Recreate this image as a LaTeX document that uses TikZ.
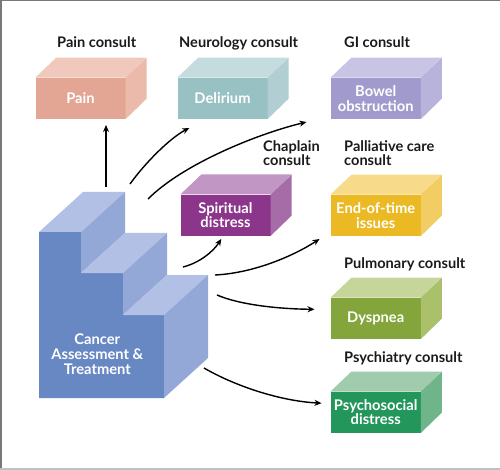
\documentclass[tikz,border=0pt]{standalone}
\usepackage{fontspec}
\setmainfont{Lato}
\usepackage{tikz}
\usetikzlibrary{arrows.meta,calc}

\begin{document}
\begin{tikzpicture}[x=1pt,y=1pt,yscale=-1,xscale=1,
  consult/.style={inner sep=0pt, align=left, text={rgb, 255:red, 26; green, 26; blue, 26 }, font=\fontsize{14.6}{14.7}\selectfont\bfseries},
  front/.style={inner sep=0pt, minimum width=90pt, minimum height=41pt, align=center, text=white, font=\fontsize{14.7}{14.7}\selectfont\bfseries},
  link/.style={line width=1.4pt, -{Stealth[length=7pt,width=6pt]}}]
\useasboundingbox (0,0) rectangle (500,470);

%Frame
\draw [color={rgb, 255:red, 120; green, 120; blue, 120 }][line width=1.5pt] (0.75,470) -- (0.75,0.75) -- (500,0.75) ;
\draw [color={rgb, 255:red, 192; green, 192; blue, 192 }][line width=2pt] (0,469) -- (500,469) ;

%Shape: Stairs [Cancer Assessment & Treatment]
\path [fill={rgb, 255:red, 104; green, 136; blue, 196 }] (39,398) -- (39,232) -- (81,232) -- (81,273) -- (123,273) -- (123,315) -- (164,315) -- (164,398) -- cycle ;
\path [fill={rgb, 255:red, 178; green, 192; blue, 229 }] (39,232) -- (81,232) -- (125,192) -- (83,192) -- cycle ;
\path [fill={rgb, 255:red, 148; green, 168; blue, 216 }] (81,232) -- (125,192) -- (125,233) -- (81,273) -- cycle ;
\path [fill={rgb, 255:red, 178; green, 192; blue, 229 }] (81,273) -- (123,273) -- (167,233) -- (125,233) -- cycle ;
\path [fill={rgb, 255:red, 148; green, 168; blue, 216 }] (123,273) -- (167,233) -- (167,275) -- (123,315) -- cycle ;
\path [fill={rgb, 255:red, 178; green, 192; blue, 229 }] (123,315) -- (164,315) -- (208,275) -- (167,275) -- cycle ;
\path [fill={rgb, 255:red, 148; green, 168; blue, 216 }] (164,315) -- (208,275) -- (208,358) -- (164,398) -- cycle ;
% Text Node
\node [front, minimum width=0pt, minimum height=0pt] (cat) at (97.3,354) {Cancer\\Assessment \&\\Treatment};

%Shape: Cube [Pain]
\node [front, fill={rgb, 255:red, 228; green, 166; blue, 148 }] (pain) at (80.5,98.3) {Pain};
\path [fill={rgb, 255:red, 240; green, 201; blue, 188 }] (pain.north west) -- ++(21,-20) -- ++(90,0) -- (pain.north east) -- cycle ;
\path [fill={rgb, 255:red, 235; green, 186; blue, 170 }] (pain.north east) -- ++(21,-20) -- ++(0,41) -- (pain.south east) -- cycle ;
%Shape: Cube [Delirium]
\node [front, fill={rgb, 255:red, 152; green, 193; blue, 196 }] (delirium) at (222.5,98.3) {Delirium};
\path [fill={rgb, 255:red, 196; green, 220; blue, 222 }] (delirium.north west) -- ++(21,-20) -- ++(90,0) -- (delirium.north east) -- cycle ;
\path [fill={rgb, 255:red, 177; green, 207; blue, 210 }] (delirium.north east) -- ++(21,-20) -- ++(0,41) -- (delirium.south east) -- cycle ;
%Shape: Cube [Bowel obstruction]
\node [front, fill={rgb, 255:red, 161; green, 155; blue, 205 }] (bowel) at (375.7,98.3) {Bowel\\obstruction};
\path [fill={rgb, 255:red, 200; green, 197; blue, 228 }] (bowel.north west) -- ++(21,-20) -- ++(90,0) -- (bowel.north east) -- cycle ;
\path [fill={rgb, 255:red, 183; green, 179; blue, 219 }] (bowel.north east) -- ++(21,-20) -- ++(0,41) -- (bowel.south east) -- cycle ;
%Shape: Cube [Spiritual distress]
\node [front, fill={rgb, 255:red, 139; green, 53; blue, 139 }] (spiritual) at (225.5,215.2) {Spiritual\\distress};
\path [fill={rgb, 255:red, 194; green, 150; blue, 196 }] (spiritual.north west) -- ++(21,-20) -- ++(90,0) -- (spiritual.north east) -- cycle ;
\path [fill={rgb, 255:red, 166; green, 108; blue, 168 }] (spiritual.north east) -- ++(21,-20) -- ++(0,41) -- (spiritual.south east) -- cycle ;
%Shape: Cube [End-of-time issues]
\node [front, fill={rgb, 255:red, 234; green, 185; blue, 35 }] (endtime) at (375.7,215.3) {End-of-time\\issues};
\path [fill={rgb, 255:red, 247; green, 218; blue, 138 }] (endtime.north west) -- ++(21,-20) -- ++(90,0) -- (endtime.north east) -- cycle ;
\path [fill={rgb, 255:red, 242; green, 205; blue, 100 }] (endtime.north east) -- ++(21,-20) -- ++(0,41) -- (endtime.south east) -- cycle ;
%Shape: Cube [Dyspnea]
\node [front, fill={rgb, 255:red, 132; green, 164; blue, 60 }] (dyspnea) at (375.7,318.3) {Dyspnea};
\path [fill={rgb, 255:red, 198; green, 214; blue, 155 }] (dyspnea.north west) -- ++(21,-20) -- ++(90,0) -- (dyspnea.north east) -- cycle ;
\path [fill={rgb, 255:red, 170; green, 192; blue, 106 }] (dyspnea.north east) -- ++(21,-20) -- ++(0,41) -- (dyspnea.south east) -- cycle ;
%Shape: Cube [Psychosocial distress]
\node [front, fill={rgb, 255:red, 35; green, 150; blue, 92 }] (psycho) at (375.7,412.2) {Psychosocial\\distress};
\path [fill={rgb, 255:red, 160; green, 204; blue, 173 }] (psycho.north west) -- ++(21,-20) -- ++(90,0) -- (psycho.north east) -- cycle ;
\path [fill={rgb, 255:red, 111; green, 181; blue, 137 }] (psycho.north east) -- ++(21,-20) -- ++(0,41) -- (psycho.south east) -- cycle ;

% Text Node
\node [consult, anchor=base west] (painLbl) at (57,47.9) {Pain consult};
% Text Node
\node [consult, anchor=base west] (neuroLbl) at (179,47.9) {Neurology consult};
% Text Node
\node [consult, anchor=base west] (giLbl) at (344,47.9) {GI consult};
% Text Node
\node [consult, anchor=west] (chaplainLbl) at (263,153) {Chaplain\\consult};
% Text Node
\node [consult, anchor=west] (palliativeLbl) at (344,153) {Palliative care\\consult};
% Text Node
\node [consult, anchor=base west] (pulmonaryLbl) at (344,268.5) {Pulmonary consult};
% Text Node
\node [consult, anchor=base west] (psychiatryLbl) at (344,362.5) {Psychiatry consult};

%Curve Lines
\coordinate (catPain) at (106,187);
\coordinate (catDelirium) at (130,184);
\coordinate (catBowel) at (148,199);
\coordinate (catSpiritual) at (183,267);
\coordinate (catEndtime) at (215,275);
\coordinate (catDyspnea) at (217,295);
\coordinate (catPsycho) at (204,368);
\draw [link, shorten >=6pt] (catPain) -- (catPain |- pain.south) ;
\draw [link] (catDelirium) .. controls (145,163) and (170,138) .. ($(delirium.south west)+(12,9)$) ;
\draw [link] (catBowel) .. controls (183,164) and (257,134) .. ($(bowel.south west)+(-24,3)$) ;
\draw [link] (catSpiritual) .. controls (199,263) and (213,252) .. ($(spiritual.south west)+(41,3)$) ;
\draw [link] (catEndtime) .. controls (255,273) and (295,255) .. ($(endtime.south west)+(-11,3)$) ;
\draw [link] (catDyspnea) .. controls (240,305) and (280,309) .. ($(dyspnea.west)+(-16,-9)$) ;
\draw [link] (catPsycho) .. controls (235,386) and (280,401) .. ($(psycho.west)+(-9,-9)$) ;

\end{tikzpicture}
\end{document}
